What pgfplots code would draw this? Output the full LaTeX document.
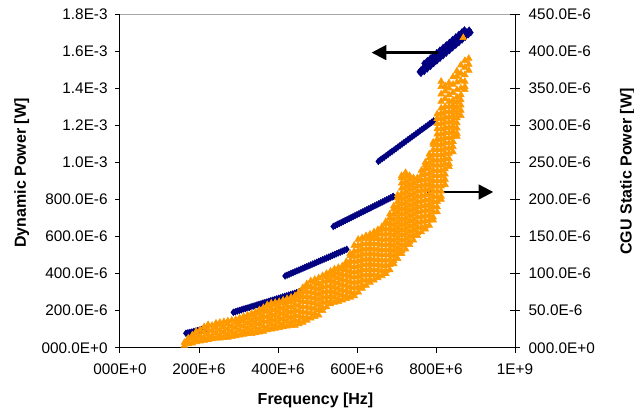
\documentclass[border=0pt]{standalone}
\usepackage{fontspec}
\setmainfont{Liberation Sans}
\usepackage{pgfplots}
\pgfplotsset{compat=1.18}
\usetikzlibrary{arrows.meta}
\definecolor{navyblue}{RGB}{0,0,128}
\definecolor{orng}{RGB}{255,153,0}
\begin{document}
\begin{tikzpicture}
\begin{axis}[
  at={(0,0)}, anchor=south west,
  scale only axis, width=296.25pt, height=250.3pt,
  xmin=0, xmax=1000, ymin=0, ymax=1800,
  axis x line*=bottom, axis y line*=left,
  axis line style={black, line width=0.75pt},
  xtick={0,200,400,600,800,1000},
  xticklabels={000E+0,200E+6,400E+6,600E+6,800E+6,1E+9},
  ytick={0,200,400,600,800,1000,1200,1400,1600,1800},
  yticklabels={000.0E+0,200.0E-6,400.0E-6,600.0E-6,800.0E-6,1.0E-3,1.2E-3,1.4E-3,1.6E-3,1.8E-3},
  tick align=outside, major tick length=3.75pt,
  tick style={black, line width=0.75pt},
  ticklabel style={font=\fontsize{11.5pt}{13pt}\selectfont},
  xticklabel style={yshift=-4.5pt},
  yticklabel style={xshift=-2pt},
  label style={font=\bfseries\fontsize{12pt}{14pt}\selectfont},
  xlabel={Frequency [Hz]},
  xlabel style={at={(axis description cs:0.495,-0.1687)}, anchor=base},
  ylabel={Dynamic Power [W]},
  ylabel style={at={(axis description cs:-0.2489,0.5235)}, anchor=center},
]
\draw[gray!70, line width=0.75pt] (rel axis cs:0,1) -- (rel axis cs:1,1);
\addplot[only marks, mark=diamond*, mark size=2.5pt, color=navyblue, mark options={draw=navyblue, fill=navyblue}] coordinates {
(167,78) (172,80.5) (177,83) (182,85) (187,88) (192,90) (197,93) (202,95) (207,97.5) (212,100) (217,102.5) (220,104)
(287,191) (292,194) (297,198) (302,201) (307,204) (312,208) (317,211) (322,214) (327,217) (332,221) (337,224) (342,227) (347,231) (352,234) (357,237) (362,241) (367,244) (372,247) (377,250.5) (382,254) (387,257) (392,260) (397,264) (402,267) (407,270) (412,274) (417,277) (422,280) (427,284) (432,287) (437,290) (442,293.5) (447,297) (452,300) (455,302)
(418,387) (423,391.6) (428,396) (433,401) (438,405.5) (443,410) (448,414.7) (453,419) (458,424) (463,428.5) (468,433) (473,438) (478,442) (483,447) (488,451.6) (493,456) (498,461) (503,465.5) (508,470) (513,474.7) (518,479) (523,484) (528,488.5) (533,493) (538,498) (543,502) (548,507) (553,511.6) (558,516) (563,521) (568,525.5) (574,531)
(540,654) (545,659) (550,665) (555,670) (560,675) (565,680.7) (570,686) (575,691) (580,696.6) (585,702) (590,707) (595,712.6) (600,718) (605,723) (610,728.6) (615,734) (620,739) (625,744.6) (630,750) (635,755) (640,760.6) (645,766) (650,771) (655,776.6) (660,782) (665,787) (670,792.6) (675,798) (680,803) (685,808.6) (690,814) (692,816)
(654,1005) (659,1013) (664,1020.6) (669,1028) (674,1036) (679,1044) (684,1052) (689,1059.6) (694,1067) (699,1075) (704,1083) (709,1091) (714,1098.7) (719,1106.5) (724,1114) (729,1122) (734,1130) (739,1137.7) (744,1145.5) (749,1153) (754,1161) (759,1169) (764,1177) (769,1184.5) (774,1192) (779,1200) (784,1208) (789,1216) (794,1223.5)
(758,1488) (762,1480)
(762,1498) (766,1505) (774,1519) (782,1533) (790,1547) (798,1561) (806,1576) (814,1590) (822,1604) (830,1618) (838,1632) (846,1646) (854,1661) (862,1675) (870,1689) (878,1703) (884,1713)
(770,1534) (778,1548) (786,1562) (794,1577) (802,1591) (810,1605) (818,1619) (826,1633) (834,1647) (842,1662) (850,1676) (858,1690) (866,1704) (872,1714)
(770,1490) (778,1504) (786,1518) (794,1533) (802,1547) (810,1561) (818,1575) (826,1589) (834,1603) (842,1618) (850,1632) (858,1646) (866,1660) (874,1675) (882,1689) (888,1700)
};
\end{axis}
\begin{axis}[
  at={(0,0)}, anchor=south west,
  scale only axis, width=296.25pt, height=250.3pt,
  xmin=0, xmax=1000, ymin=0, ymax=450,
  axis x line=none, axis y line*=right,
  axis line style={black, line width=0.75pt},
  ytick={0,50,100,150,200,250,300,350,400,450},
  yticklabels={000.0E+0,50.0E-6,100.0E-6,150.0E-6,200.0E-6,250.0E-6,300.0E-6,350.0E-6,400.0E-6,450.0E-6},
  tick align=center, major tick length=7.5pt,
  tick style={black, line width=0.75pt},
  ticklabel style={font=\fontsize{11.5pt}{13pt}\selectfont},
  yticklabel style={xshift=3pt},
  label style={font=\bfseries\fontsize{12pt}{14pt}\selectfont},
  ylabel={CGU Static Power [W]},
  ylabel style={at={(axis description cs:1.2848,0.528)}, anchor=center},
]
\addplot[only marks, mark=triangle*, mark size=2.9pt, color=orng, mark options={draw=orng, fill=orng}] coordinates {
(163,3) (163,7)
(173,5) (173,9) (173,13)
(183,6) (183,13) (183,17)
(193,8) (193,12) (193,19) (193,22)
(203,9) (203,16) (203,24)
(213,10) (213,14) (213,21) (213,28)
(223,11) (223,18) (223,25) (223,31)
(233,12) (233,16) (233,23) (233,30)
(243,13) (243,20) (243,27) (243,33)
(253,13) (253,17) (253,24) (253,31) (253,34)
(263,14) (263,21) (263,28) (263,35)
(273,14) (273,18) (273,25) (273,32) (273,36)
(283,15) (283,22) (283,29) (283,37)
(293,16) (293,20) (293,27) (293,34) (293,38)
(303,17) (303,24) (303,31) (303,36) (303,40)
(313,18) (313,22) (313,29) (313,36) (313,42)
(323,19) (323,26) (323,33) (323,40) (323,44)
(333,19) (333,23) (333,30) (333,37) (333,44) (333,46)
(343,20) (343,27) (343,34) (343,41) (343,48)
(353,21) (353,25) (353,32) (353,39) (353,46) (353,51)
(363,22) (363,29) (363,36) (363,43) (363,50) (363,54)
(373,24) (373,28) (373,35) (373,42) (373,49) (373,56) (373,58)
(383,25) (383,32) (383,39) (383,46) (383,53) (383,60)
(393,26) (393,30) (393,37) (393,44) (393,51) (393,58) (393,61)
(403,27) (403,34) (403,41) (403,48) (403,55) (403,62)
(413,28) (413,32) (413,39) (413,46) (413,53) (413,60) (413,64)
(423,29) (423,36) (423,43) (423,50) (423,57) (423,62) (423,66)
(433,30) (433,34) (433,41) (433,48) (433,55) (433,62) (433,68)
(443,30) (443,37) (443,44) (443,51) (443,58) (443,65) (443,70)
(453,32) (453,36) (453,43) (453,50) (453,57) (453,64) (453,71) (453,75)
(463,34) (463,41) (463,48) (463,55) (463,62) (463,69) (463,76) (463,81)
(473,37) (473,41) (473,48) (473,55) (473,62) (473,69) (473,76) (473,83) (473,86)
(483,40) (483,47) (483,54) (483,61) (483,68) (483,75) (483,82) (483,90)
(493,42) (493,46) (493,53) (493,60) (493,67) (493,74) (493,81) (493,88) (493,92)
(503,44) (503,51) (503,58) (503,65) (503,72) (503,79) (503,86) (503,94)
(513,50) (513,54) (513,61) (513,68) (513,75) (513,82) (513,89) (513,97)
(523,55) (523,62) (523,69) (523,76) (523,83) (523,90) (523,95) (523,100)
(533,59) (533,63) (533,70) (533,77) (533,84) (533,91) (533,98) (533,103)
(543,61) (543,68) (543,75) (543,82) (543,89) (543,96) (543,101) (543,106)
(553,62) (553,66) (553,73) (553,80) (553,87) (553,94) (553,101) (553,108)
(563,64) (563,71) (563,78) (563,85) (563,92) (563,99) (563,106) (563,110)
(573,66) (573,70) (573,77) (573,84) (573,91) (573,98) (573,105) (573,112) (573,116)
(583,68) (583,75) (583,82) (583,89) (583,96) (583,103) (583,110) (583,117) (583,124) (583,127)
(593,70) (593,74) (593,81) (593,88) (593,95) (593,102) (593,109) (593,116) (593,123) (593,130) (593,138)
(603,75) (603,82) (603,89) (603,96) (603,103) (603,110) (603,117) (603,124) (603,131) (603,138) (603,146)
(613,80) (613,84) (613,91) (613,98) (613,105) (613,112) (613,119) (613,126) (613,133) (613,140) (613,148)
(623,84) (623,91) (623,98) (623,105) (623,112) (623,119) (623,126) (623,133) (623,140) (623,147) (623,151)
(633,88) (633,92) (633,99) (633,106) (633,113) (633,120) (633,127) (633,134) (633,141) (633,148) (633,153)
(643,91) (643,98) (643,105) (643,112) (643,119) (643,126) (643,133) (643,140) (643,147) (643,152) (643,156)
(653,94) (653,98) (653,105) (653,112) (653,119) (653,126) (653,133) (653,140) (653,147) (653,154) (653,159)
(663,97) (663,104) (663,111) (663,118) (663,125) (663,132) (663,139) (663,146) (663,153) (663,160) (663,163)
(673,100) (673,104) (673,111) (673,118) (673,125) (673,132) (673,139) (673,146) (673,153) (673,160) (673,167) (673,170)
(683,105) (683,112) (683,119) (683,126) (683,133) (683,140) (683,147) (683,154) (683,161) (683,168) (683,175) (683,180)
(693,113) (693,117) (693,124) (693,131) (693,138) (693,145) (693,152) (693,159) (693,166) (693,173) (693,180) (693,187) (693,191)
(703,120) (703,127) (703,134) (703,141) (703,148) (703,155) (703,162) (703,169) (703,176) (703,183) (703,190) (703,197) (703,202) (703,206)
(713,127) (713,131) (713,138) (713,145) (713,152) (713,159) (713,166) (713,173) (713,180) (713,187) (713,194) (713,201) (713,208) (713,215) (713,222) (713,229) (713,232)
(723,133) (723,140) (723,147) (723,154) (723,161) (723,168) (723,175) (723,182) (723,189) (723,196) (723,203) (723,210) (723,217) (723,224) (723,231) (723,236)
(733,139) (733,143) (733,150) (733,157) (733,164) (733,171) (733,178) (733,185) (733,192) (733,199) (733,206) (733,213) (733,220) (733,227) (733,232)
(743,145) (743,152) (743,159) (743,166) (743,173) (743,180) (743,187) (743,194) (743,201) (743,208) (743,215) (743,222) (743,229)
(753,151) (753,155) (753,162) (753,169) (753,176) (753,183) (753,190) (753,197) (753,204) (753,211) (753,218) (753,225) (753,229)
(763,156) (763,163) (763,170) (763,177) (763,184) (763,191) (763,198) (763,205) (763,212) (763,219) (763,226) (763,233) (763,239)
(773,160) (773,164) (773,171) (773,178) (773,185) (773,192) (773,199) (773,206) (773,213) (773,220) (773,227) (773,234) (773,241) (773,246) (773,250)
(783,165) (783,172) (783,179) (783,186) (783,193) (783,200) (783,207) (783,214) (783,221) (783,228) (783,235) (783,242) (783,249) (783,256) (783,261)
(793,172) (793,176) (793,183) (793,190) (793,197) (793,204) (793,211) (793,218) (793,225) (793,232) (793,239) (793,246) (793,253) (793,260) (793,267) (793,274) (793,277)
(803,183) (803,190) (803,197) (803,204) (803,211) (803,218) (803,225) (803,232) (803,239) (803,246) (803,253) (803,260) (803,267) (803,274) (803,281) (803,288) (803,295) (803,302) (803,309) (803,315)
(813,200) (813,204) (813,211) (813,218) (813,225) (813,232) (813,239) (813,246) (813,253) (813,260) (813,267) (813,274) (813,281) (813,288) (813,295) (813,302) (813,309) (813,316) (813,323) (813,332) (813,342) (813,352) (813,359)
(823,220) (823,227) (823,234) (823,241) (823,248) (823,255) (823,262) (823,269) (823,276) (823,283) (823,290) (823,297) (823,304) (823,311) (823,318) (823,325) (823,336) (823,346) (823,353)
(833,244) (833,248) (833,255) (833,262) (833,269) (833,276) (833,283) (833,290) (833,297) (833,304) (833,311) (833,318) (833,325) (833,332) (833,341) (833,350) (833,357)
(843,264) (843,271) (843,278) (843,285) (843,292) (843,299) (843,306) (843,313) (843,320) (843,327) (843,334) (843,344) (843,355) (843,365)
(853,285) (853,289) (853,296) (853,303) (853,310) (853,317) (853,324) (853,331) (853,338) (853,348) (853,358) (853,366) (853,373)
(863,313) (863,320) (863,327) (863,334) (863,341) (863,350) (863,360) (863,370) (863,381)
(873,348) (873,352) (873,359) (873,368) (873,378) (873,387)
(883,374) (883,382) (883,390)
(869,418)
};
\draw[-{Triangle[length=11pt,width=11pt]}, line width=1.8pt, black] (axis cs:806,398) -- (axis cs:637,398);
\draw[-{Triangle[length=11pt,width=11pt]}, line width=1.8pt, black] (axis cs:777,210) -- (axis cs:945,210);
\end{axis}
\pgfresetboundingbox
\path[use as bounding box] (-90pt,-48.2pt) rectangle (385.5pt,260.8pt);
\end{tikzpicture}
\end{document}
